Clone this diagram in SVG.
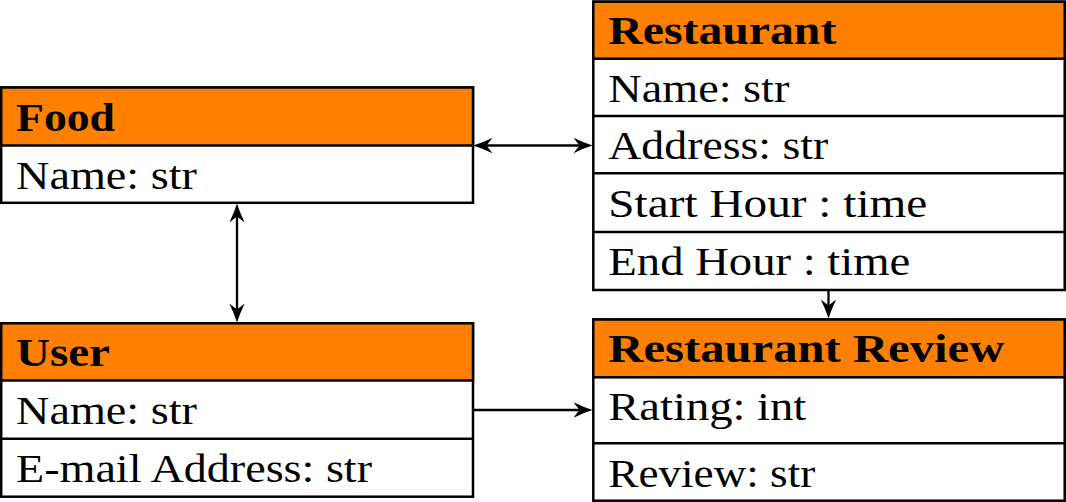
<svg xmlns="http://www.w3.org/2000/svg" width="1066" height="502" viewBox="0 0 1066 502">
<style>
.box{fill:#ffffff;stroke:#000000;stroke-width:2.5}
.hdr{fill:#ff8000;stroke:#000000;stroke-width:2.5}
.sep{stroke:#000000;stroke-width:2.5}
.t{font-family:"Liberation Serif","Times New Roman",serif;font-size:41px;fill:#000000}
.b{font-family:"Liberation Serif","Times New Roman",serif;font-size:41px;font-weight:bold;fill:#000000}
.conn{fill:none;stroke:#000000;stroke-width:2.3}
</style>
<defs>
<marker id="arr" viewBox="0 0 19 16" refX="8" refY="8" markerWidth="19" markerHeight="16" markerUnits="userSpaceOnUse" orient="auto-start-reverse">
<path d="M19,8 Q10,5.2 0,0.3 L6,8 L0,15.7 Q10,10.8 19,8 Z" fill="#000000"/>
</marker>
</defs>
<rect width="1066" height="502" fill="#ffffff"/>
<g id="food">
<rect class="box" x="1.2" y="87.5" width="471.8" height="115.3"/>
<rect class="hdr" x="1.2" y="87.5" width="471.8" height="58"/>
<text class="b" x="16" y="130.5" textLength="99" lengthAdjust="spacingAndGlyphs">Food</text>
<text class="t" x="16" y="188.5" textLength="181" lengthAdjust="spacingAndGlyphs">Name: str</text>
</g>
<g id="user">
<rect class="box" x="1.2" y="323.3" width="471.8" height="173.4"/>
<rect class="hdr" x="1.2" y="323.3" width="471.8" height="57.2"/>
<line class="sep" x1="1.2" y1="438.7" x2="473" y2="438.7"/>
<text class="b" x="16" y="366" textLength="94" lengthAdjust="spacingAndGlyphs">User</text>
<text class="t" x="16" y="423.5" textLength="181" lengthAdjust="spacingAndGlyphs">Name: str</text>
<text class="t" x="16" y="481.5" textLength="356" lengthAdjust="spacingAndGlyphs">E-mail Address: str</text>
</g>
<g id="restaurant">
<rect class="box" x="593.3" y="1.7" width="471.4" height="288.3"/>
<rect class="hdr" x="593.3" y="1.7" width="471.4" height="57"/>
<line class="sep" x1="593.3" y1="116" x2="1064.7" y2="116"/>
<line class="sep" x1="593.3" y1="173.3" x2="1064.7" y2="173.3"/>
<line class="sep" x1="593.3" y1="232" x2="1064.7" y2="232"/>
<text class="b" x="608.3" y="43.5" textLength="228" lengthAdjust="spacingAndGlyphs">Restaurant</text>
<text class="t" x="608.3" y="101.7" textLength="181" lengthAdjust="spacingAndGlyphs">Name: str</text>
<text class="t" x="608.3" y="159.3" textLength="220" lengthAdjust="spacingAndGlyphs">Address: str</text>
<text class="t" x="608.3" y="217.3" textLength="319" lengthAdjust="spacingAndGlyphs">Start Hour : time</text>
<text class="t" x="608.3" y="275" textLength="302" lengthAdjust="spacingAndGlyphs">End Hour : time</text>
</g>
<g id="review">
<rect class="box" x="593.3" y="319.5" width="471.4" height="181.2"/>
<rect class="hdr" x="593.3" y="319.5" width="471.4" height="57.8"/>
<line class="sep" x1="593.3" y1="443.3" x2="1064.7" y2="443.3"/>
<text class="b" x="608.3" y="361.8" textLength="396" lengthAdjust="spacingAndGlyphs">Restaurant Review</text>
<text class="t" x="608.3" y="420" textLength="198" lengthAdjust="spacingAndGlyphs">Rating: int</text>
<text class="t" x="608.3" y="486.7" textLength="207" lengthAdjust="spacingAndGlyphs">Review: str</text>
</g>
<g id="connectors">
<path class="conn" d="M484.5,145.5 H581.5" marker-start="url(#arr)" marker-end="url(#arr)"/>
<path class="conn" d="M237,214.5 V311.5" marker-start="url(#arr)" marker-end="url(#arr)"/>
<path class="conn" d="M828.5,290 V307.5" marker-end="url(#arr)"/>
<path class="conn" d="M473,410 H581.5" marker-end="url(#arr)"/>
</g>
</svg>
